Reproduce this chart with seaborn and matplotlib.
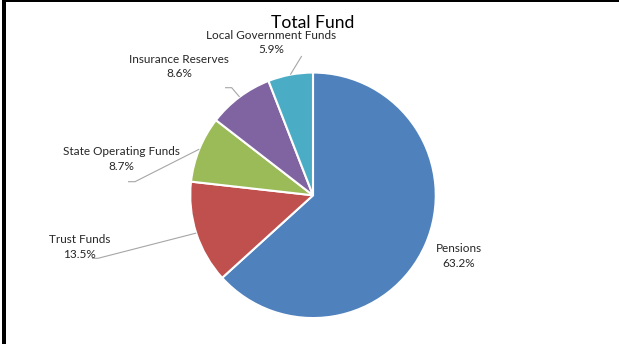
import numpy as np
import matplotlib
matplotlib.use("Agg")
import matplotlib.pyplot as plt
from matplotlib.patches import Rectangle
import seaborn as sns

# Data
categories = ["Pensions", "Trust Funds", "State Operating Funds",
              "Insurance Reserves", "Local Government Funds"]
shares = [63.2, 13.5, 8.7, 8.6, 5.9]
slice_colors = ["#4F81BD", "#C0504D", "#9BBB59", "#8064A2", "#4BACC6"]
chart_title = "Total Fund"

# Layout in pixel units (origin top-left, y downwards)
W, H = 619, 344
pie_center = (313, 195.3)
pie_radius = 122.75
label_centers = [(459, 256), (79.5, 247), (121.5, 159), (179, 66.8), (271.5, 42.6)]
leader_paths = [None,
                [(98, 258.3), (92, 258.3)],
                [(135, 181.7), (128, 181.7)],
                [(231.7, 87.7), (225, 87.7)],
                [(301.7, 56)]]

sns.set_theme(style="white")
plt.rcParams["font.family"] = ["Lato", "DejaVu Sans"]

fig = plt.figure(figsize=(W / 100, H / 100), dpi=100)
fig.patch.set_facecolor("white")
ax = fig.add_axes([0, 0, 1, 1])


def px(x, y):
    return (x, H - y)


wedges, _ = ax.pie(shares, colors=slice_colors, startangle=90, counterclock=False,
                   center=px(*pie_center), radius=pie_radius,
                   wedgeprops=dict(edgecolor="white", linewidth=1.5))
ax.set_xlim(0, W)
ax.set_ylim(0, H)
ax.set_aspect("equal")
ax.set_axis_off()

# Category labels with percentage and leader lines
for wedge, name, share, pos, path in zip(wedges, categories, shares,
                                         label_centers, leader_paths):
    ax.text(*px(*pos), f"{name}\n{share:.1f}%", ha="center", va="center",
            fontsize=8.5, color="#262626", linespacing=1.35)
    if path is not None:
        mid = np.deg2rad((wedge.theta1 + wedge.theta2) / 2)
        cxd, cyd = px(*pie_center)
        xs = [cxd + pie_radius * np.cos(mid)]
        ys = [cyd + pie_radius * np.sin(mid)]
        for (x, y) in path:
            X, Y = px(x, y)
            xs.append(X)
            ys.append(Y)
        ax.plot(xs, ys, color="#a6a6a6", linewidth=0.8, solid_capstyle="butt")

ax.text(*px(312.4, 22.7), chart_title, ha="center", va="center",
        fontsize=12.6, color="#000000")

# Frame strokes at the left and top edges
fig.add_artist(Rectangle((2 / W, 0), 4 / W, 1, transform=fig.transFigure,
                         facecolor="black", edgecolor="none"))
fig.add_artist(Rectangle((2 / W, 1 - 1.5 / H), 617 / W, 1.5 / H,
                         transform=fig.transFigure, facecolor="black",
                         edgecolor="none"))

fig.savefig("out.png", dpi=100, facecolor="white")
